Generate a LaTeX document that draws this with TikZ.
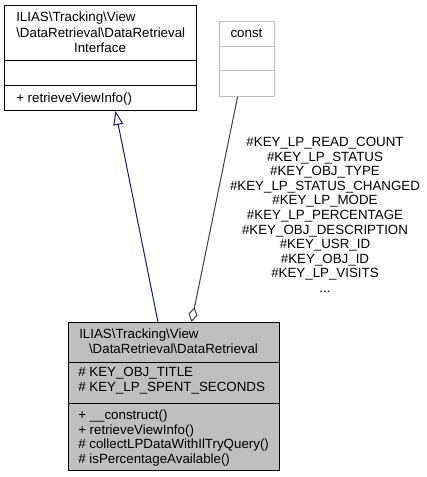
\documentclass[tikz,border=0pt]{standalone}
\usepackage{fontspec}
\setmainfont{Liberation Sans}
\usetikzlibrary{arrows.meta,calc}
\definecolor{navyline}{HTML}{191970}
\definecolor{edgegray}{HTML}{404040}
\definecolor{boxgray}{HTML}{BFBFBF}
\begin{document}
\begin{tikzpicture}[x=0.75pt,y=-0.75pt,
  every node/.style={inner sep=0pt, font=\fontsize{10pt}{12pt}\selectfont},
  classbox/.style={draw=black, fill=white, line width=0.75pt, anchor=north west},
  constbox/.style={draw=boxgray, fill=white, line width=0.75pt, anchor=north west},
  curbox/.style={draw=black, fill=boxgray, line width=0.75pt, anchor=north west},
  lt/.style={anchor=base west},
  ct/.style={anchor=base},
  gen/.style={draw=navyline, line width=0.75pt, -{Triangle[open, length=10.5pt, width=7.5pt]}},
  usage/.style={draw=edgegray, line width=0.75pt, {Diamond[open, length=11.25pt, width=6.75pt]}-}
]
\useasboundingbox (0,0) rectangle (427,477);

% interface box
\node[classbox, minimum width=144pt, minimum height=78.75pt] (iface) at (4,5) {};
\draw[line width=0.75pt] (iface.west |- 0,61) -- (iface.east |- 0,61);
\draw[line width=0.75pt] (iface.west |- 0,86) -- (iface.east |- 0,86);
\node[lt] (i1) at (16,22) {ILIAS\textbackslash Tracking\textbackslash View};
\node[lt] (i2) at (16,37.5) {\textbackslash DataRetrieval\textbackslash DataRetrieval};
\node[ct] (i3) at (100,53) {Interface};
\node[lt] (i4) at (16,103) {+ retrieveViewInfo()};

% const box
\node[constbox, minimum width=41.25pt, minimum height=56.25pt] (const) at (219,21) {};
\draw[boxgray, line width=0.75pt] (const.west |- 0,47) -- (const.east |- 0,47);
\draw[boxgray, line width=0.75pt] (const.west |- 0,71) -- (const.east |- 0,71);
\node[ct] (c1) at (246.5,37.5) {const};

% current class box
\node[curbox, minimum width=158.25pt, minimum height=111pt] (bot) at (68,322) {};
\draw[line width=0.75pt] (bot.west |- 0,362) -- (bot.east |- 0,362);
\draw[line width=0.75pt] (bot.west |- 0,403) -- (bot.east |- 0,403);
\node[lt] (b1) at (79,338) {ILIAS\textbackslash Tracking\textbackslash View};
\node[ct] (b2) at (173.5,353.5) {\textbackslash DataRetrieval\textbackslash DataRetrieval};
\node[lt] (b3) at (78,376) {\# KEY\_OBJ\_TITLE};
\node[lt] (b4) at (78,391.5) {\# KEY\_LP\_SPENT\_SECONDS};
\node[lt] (b5) at (78,419.5) {+ \_\_construct()};
\node[lt] (b6) at (78,434) {+ retrieveViewInfo()};
\node[lt] (b7) at (78,448.5) {\# collectLPDataWithIlTryQuery()};
\node[lt] (b8) at (78,463) {\# isPercentageAvailable()};

% connectors
\draw[gen] ([xshift=-12pt]bot.north) -- ([xshift=11.25pt]iface.south);
\draw[usage] ([xshift=13.1pt]bot.north) -- ([xshift=-7.1pt]const.south);

% edge label
\node[ct] (l1) at (325,146.5) {\#KEY\_LP\_READ\_COUNT};
\node[ct] (l2) at (325,161.1) {\#KEY\_LP\_STATUS};
\node[ct] (l3) at (325,175.7) {\#KEY\_OBJ\_TYPE};
\node[ct] (l4) at (325,190.3) {\#KEY\_LP\_STATUS\_CHANGED};
\node[ct] (l5) at (325,204.9) {\#KEY\_LP\_MODE};
\node[ct] (l6) at (325,219.5) {\#KEY\_LP\_PERCENTAGE};
\node[ct] (l7) at (325,234.1) {\#KEY\_OBJ\_DESCRIPTION};
\node[ct] (l8) at (325,248.7) {\#KEY\_USR\_ID};
\node[ct] (l9) at (325,263.3) {\#KEY\_OBJ\_ID};
\node[ct] (l10) at (325,277.9) {\#KEY\_LP\_VISITS};
\node[ct] (l11) at (325,292.5) {...};
\end{tikzpicture}
\end{document}
